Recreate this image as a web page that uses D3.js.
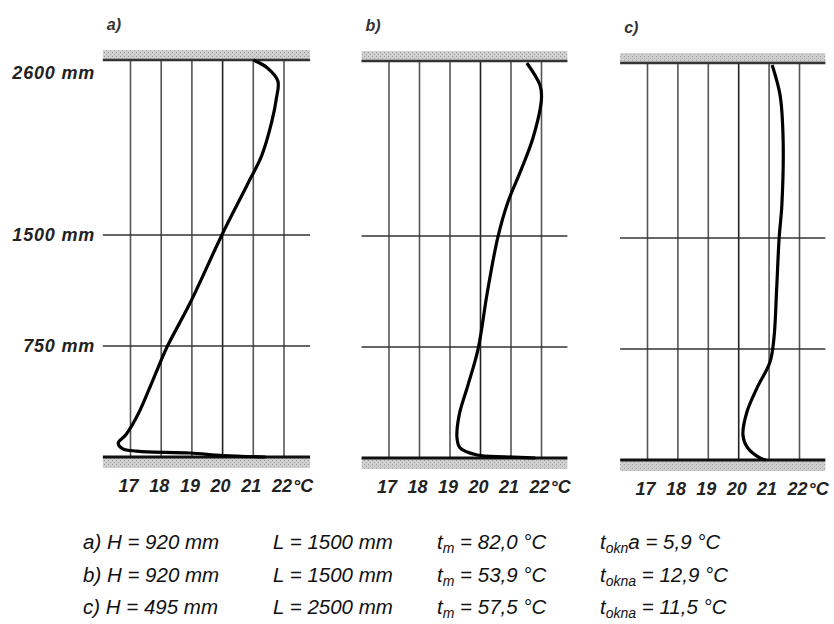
<!DOCTYPE html>
<html>
<head>
<meta charset="utf-8">
<script src="https://cdn.jsdelivr.net/npm/d3@7"></script>
<style>
body { margin: 0; background: #fff; }
svg text { font-family: "Liberation Sans", Arial, sans-serif; font-style: italic; }
</style>
</head>
<body>
<section></section>
<script>
var temps = [17, 18, 19, 20, 21, 22];
var heights = [750, 1500, 2600];
var heightLabels = ["750 mm", "1500 mm", "2600 mm"];
var gridHeights = [750, 1500];
var ceiling = 2682;
var panelNames = ["a)", "b)", "c)"];

// temperature profile [t, h]
var curveA = [[21.0, 2682], [21.45, 2630], [21.8, 2540], [21.75, 2420], [21.6, 2264], [21.28, 2040],
    [20.8, 1838], [20.0, 1510], [18.94, 1040], [18.19, 743], [17.73, 520], [17.25, 290],
    [16.85, 150], [16.6, 95], [16.75, 55], [17.2, 40], [17.54, 34], [18.94, 27], [20.0, 10], [21.4, 0]];
var curveB = [[21.52, 2669], [21.95, 2520], [22.0, 2432], [21.72, 2162], [21.3, 1932], [20.9, 1730],
    [20.57, 1493], [20.22, 1115], [19.92, 736], [19.59, 493], [19.3, 290], [19.23, 135],
    [19.33, 68], [19.89, 20], [20.8, 8], [21.8, 0]];
var curveC = [[21.1, 2669], [21.36, 2466], [21.46, 2176], [21.42, 1723], [21.33, 1500], [21.25, 1162],
    [21.16, 824], [21.03, 662], [20.6, 486], [20.27, 324], [20.14, 169], [20.3, 81], [20.7, 14], [20.9, 0]];
var curves = [curveA, curveB, curveC];

var legH = ["a) H = 920 mm", "b) H = 920 mm", "c) H = 495 mm"];
var legL = ["L = 1500 mm", "L = 1500 mm", "L = 2500 mm"];
var legTm = ["82,0", "53,9", "57,5"];
var legOkna = ["5,9", "12,9", "11,5"];
var legOknaSub = ["okn", "okna", "okna"];
var legOknaTail = ["a", "", ""];

var width = 834, height = 624;
var x17 = [130.5, 389, 647.5], x22 = [284, 541.5, 799.5];
var yBottom = [457, 458, 460];
var pxPerMm = 0.148;
var bandLeft = 16.1, bandRight = 22.85;

var svg = d3.select("section").append("svg")
    .attr("width", width)
    .attr("height", height);

var defs = svg.append("defs");
var pat = defs.append("pattern")
    .attr("id", "hatch")
    .attr("patternUnits", "userSpaceOnUse")
    .attr("width", 4).attr("height", 4);
pat.append("rect").attr("width", 4).attr("height", 4).attr("fill", "#cfcfcf");
pat.append("rect").attr("x", 0).attr("y", 0).attr("width", 1).attr("height", 1).attr("fill", "#9a9a9a");
pat.append("rect").attr("x", 2).attr("y", 2).attr("width", 1).attr("height", 1).attr("fill", "#a8a8a8");

var line = d3.line().curve(d3.curveCatmullRom.alpha(0.5));

for (var p = 0; p < 3; p++) {
    var x = d3.scaleLinear().domain([17, 22]).range([x17[p], x22[p]]);
    var y = d3.scaleLinear().domain([0, 1500]).range([yBottom[p], yBottom[p] - 1500 * pxPerMm]);
    var g = svg.append("g");

    var xl = x(bandLeft), xr = x(bandRight);
    var yTop = y(ceiling), yBot = y(0);

    // hatched ceiling and floor
    g.append("rect").attr("x", xl).attr("y", yTop - 10).attr("width", xr - xl).attr("height", 10)
        .attr("fill", "url(#hatch)");
    g.append("rect").attr("x", xl).attr("y", yBot + 1).attr("width", xr - xl).attr("height", 10)
        .attr("fill", "url(#hatch)");

    // vertical grid
    g.append("g").selectAll("line")
        .data(temps)
        .enter().append("line")
        .attr("x1", function(d) { return x(d); })
        .attr("x2", function(d) { return x(d); })
        .attr("y1", yTop)
        .attr("y2", yBot)
        .attr("stroke", function(d) { return d == 20 ? "#222" : "#555"; })
        .attr("stroke-width", 1.6);

    // horizontal grid
    g.append("g").selectAll("line")
        .data(gridHeights)
        .enter().append("line")
        .attr("x1", xl).attr("x2", xr)
        .attr("y1", function(d) { return y(d); })
        .attr("y2", function(d) { return y(d); })
        .attr("stroke", "#333")
        .attr("stroke-width", 1.6);

    g.append("line").attr("x1", xl).attr("x2", xr).attr("y1", yTop).attr("y2", yTop)
        .attr("stroke", "#333").attr("stroke-width", 2.5);
    g.append("line").attr("x1", xl).attr("x2", xr).attr("y1", yBot).attr("y2", yBot)
        .attr("stroke", "#111").attr("stroke-width", 3);

    // profile
    g.append("path")
        .attr("d", line(curves[p].map(function(d) { return [x(d[0]), y(d[1])]; })))
        .attr("fill", "none")
        .attr("stroke", "#000")
        .attr("stroke-width", 3.2)
        .attr("stroke-linejoin", "round");

    // tick labels
    g.append("g").selectAll("text")
        .data(temps)
        .enter().append("text")
        .text(function(d) { return d; })
        .attr("x", function(d) { return x(d) - 2; })
        .attr("y", yBot + 35)
        .attr("text-anchor", "middle")
        .attr("font-size", 18)
        .attr("font-weight", "bold")
        .attr("fill", "#222");
    g.append("text").text("°C")
        .attr("x", x(22) + 9)
        .attr("y", yBot + 35)
        .attr("font-size", 18)
        .attr("font-weight", "bold")
        .attr("fill", "#222");

    g.append("text").text(panelNames[p])
        .attr("x", xl + 4)
        .attr("y", yTop - 30)
        .attr("font-size", 16)
        .attr("font-weight", "bold")
        .attr("fill", "#333");

    if (p == 0) {
        g.append("g").selectAll("text")
            .data(heights)
            .enter().append("text")
            .text(function(d, i) { return heightLabels[i]; })
            .attr("x", 95)
            .attr("y", function(d) { return y(d); })
            .attr("dy", "0.35em")
            .attr("text-anchor", "end")
            .attr("font-size", 18)
            .attr("letter-spacing", 0.8)
            .attr("font-weight", "bold")
            .attr("fill", "#222");
    }
}

// legend
var rowY = [549, 582, 614];
var leg = svg.append("g").attr("font-size", 20.5).attr("fill", "#111");
for (var i = 0; i < 3; i++) {
    leg.append("text").text(legH[i]).attr("x", 83).attr("y", rowY[i]);
    leg.append("text").text(legL[i]).attr("x", 273).attr("y", rowY[i]);
    var t1 = leg.append("text").attr("x", 437).attr("y", rowY[i]);
    t1.append("tspan").text("t");
    t1.append("tspan").text("m").attr("font-size", 14).attr("dy", 4);
    t1.append("tspan").text(" = " + legTm[i] + " °C").attr("dy", -4);
    var t2 = leg.append("text").attr("x", 600).attr("y", rowY[i]);
    t2.append("tspan").text("t");
    t2.append("tspan").text(legOknaSub[i]).attr("font-size", 14).attr("dy", 4);
    t2.append("tspan").text(legOknaTail[i] + " = " + legOkna[i] + " °C").attr("dy", -4);
}
</script>
</body>
</html>
